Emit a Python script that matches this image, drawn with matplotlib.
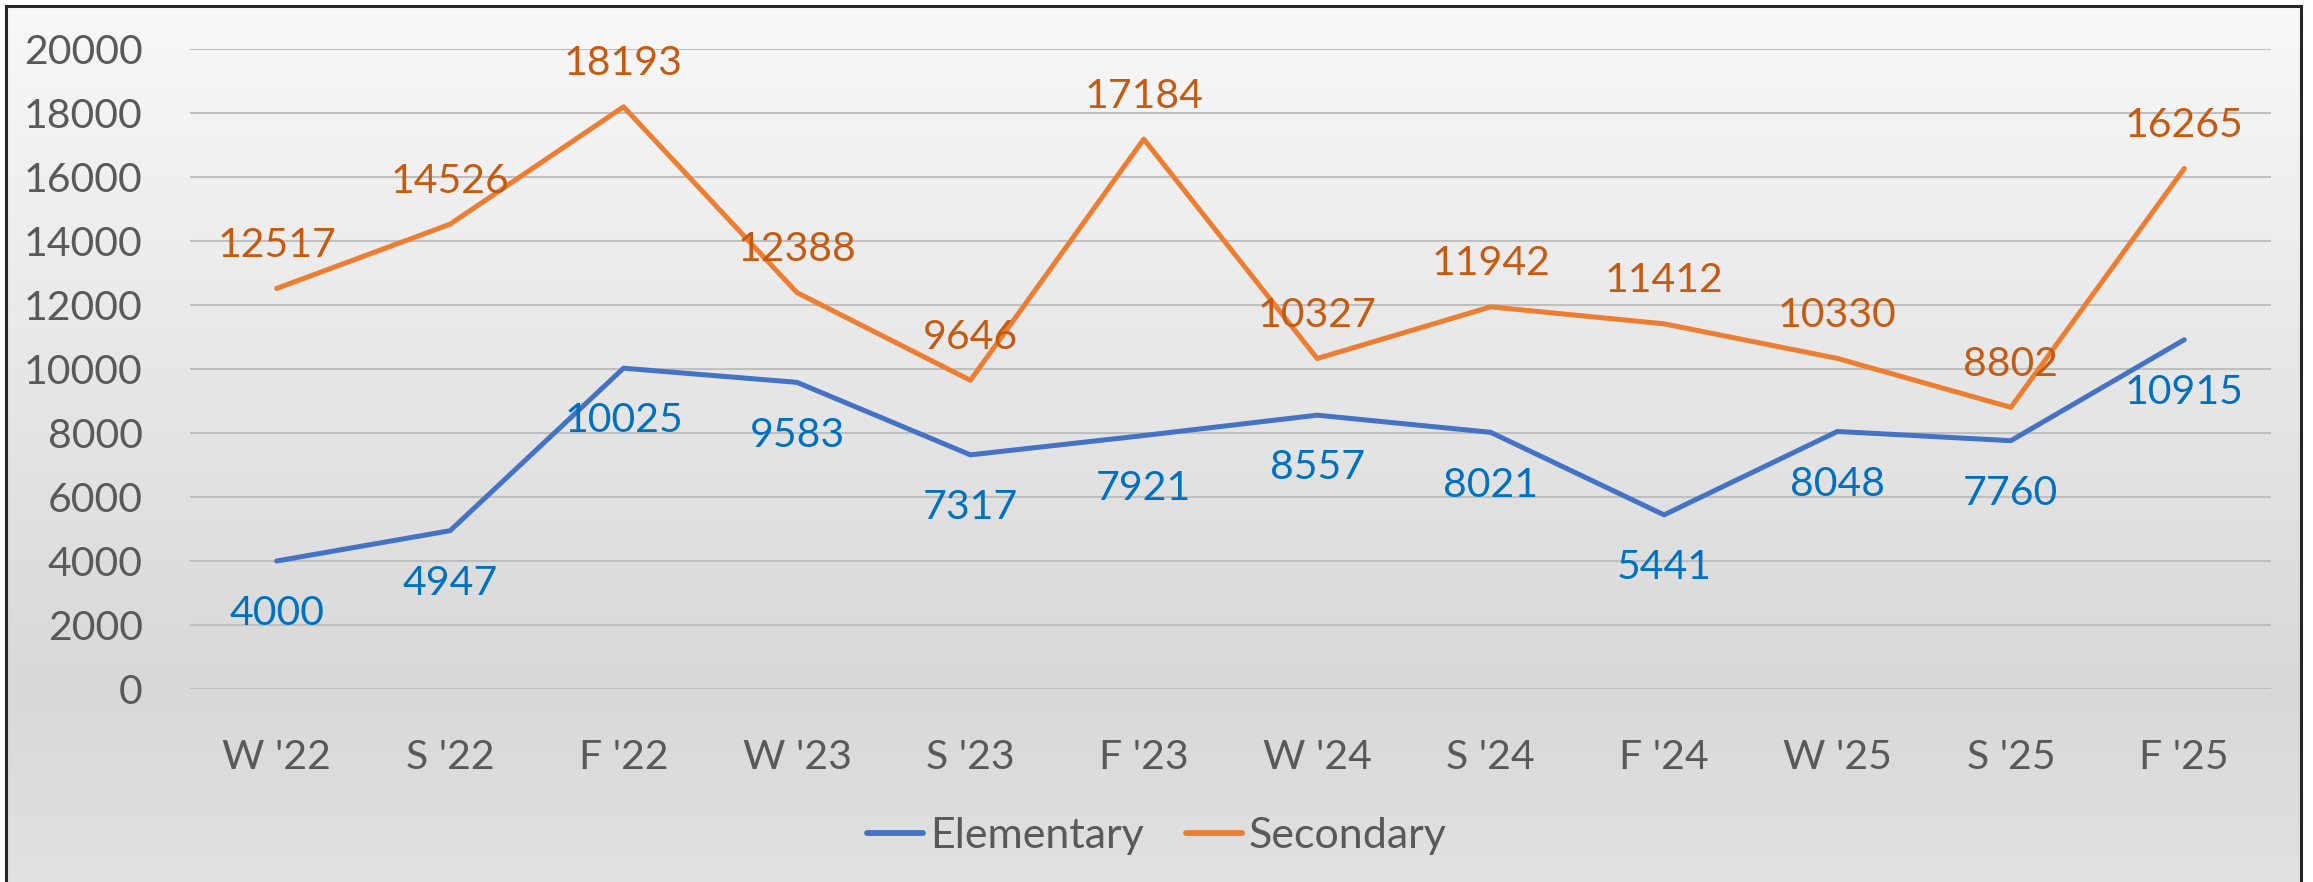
import matplotlib
matplotlib.use("Agg")
import matplotlib.pyplot as plt
import numpy as np
from matplotlib.colors import LinearSegmentedColormap

terms = ["W '22", "S '22", "F '22", "W '23", "S '23", "F '23",
         "W '24", "S '24", "F '24", "W '25", "S '25", "F '25"]
elementary = [4000, 4947, 10025, 9583, 7317, 7921, 8557, 8021, 5441, 8048, 7760, 10915]
secondary = [12517, 14526, 18193, 12388, 9646, 17184, 10327, 11942, 11412, 10330, 8802, 16265]

plt.rcParams['font.family'] = ['Lato', 'DejaVu Sans']
fs = 29.5
grey_text = '#595959'

fig = plt.figure(figsize=(23.13, 8.82), dpi=100)

# chart area with a soft vertical gradient and dark frame
bg = fig.add_axes([6 / 2313, 0, (2301 - 6) / 2313, 1 - 6 / 882])
cmap = LinearSegmentedColormap.from_list(
    'bgfade', [(0.0, '#f8f8f8'), (0.78, '#d8d8d8'), (1.0, '#e1e1e1')])
grad = np.linspace(0, 1, 256).reshape(-1, 1)
bg.imshow(grad, aspect='auto', cmap=cmap, extent=[0, 1, 0, 1], origin='upper')
bg.set_xticks([])
bg.set_yticks([])
for side in ['left', 'top', 'right']:
    bg.spines[side].set_color('#262626')
    bg.spines[side].set_linewidth(2.2)
bg.spines['bottom'].set_visible(False)
bg.set_zorder(0)

ax = fig.add_axes([190 / 2313, 1 - 689 / 882, (2271 - 190) / 2313, (689 - 49) / 882])
ax.set_zorder(1)
ax.patch.set_alpha(0)
x = np.arange(len(terms))

ax.plot(x, elementary, color='#4472C4', lw=3.6, solid_capstyle='round', label='Elementary')
ax.plot(x, secondary, color='#ED7D31', lw=3.6, solid_capstyle='round', label='Secondary')

for xi, v in zip(x, secondary):
    ax.annotate(str(v), (xi, v), xytext=(0, 31), textcoords='offset points',
                ha='center', va='center', fontsize=fs, color='#C55A11')
for xi, v in zip(x, elementary):
    ax.annotate(str(v), (xi, v), xytext=(0, -38), textcoords='offset points',
                ha='center', va='center', fontsize=fs, color='#0070C0')

ax.set_xlim(-0.5, len(terms) - 0.5)
ax.set_ylim(0, 20000)
ax.set_yticks(range(0, 20001, 2000))
ax.set_xticks(x)
ax.set_xticklabels(terms)
ax.tick_params(axis='both', length=0, labelsize=fs, labelcolor=grey_text)
ax.tick_params(axis='y', pad=34)
ax.tick_params(axis='x', pad=36)
ax.grid(axis='y', color='#bfbfbf', lw=1.5)
ax.set_axisbelow(True)
for s in ax.spines.values():
    s.set_visible(False)

leg = fig.legend(loc='center', bbox_to_anchor=(1157 / 2313, 1 - 836 / 882), ncol=2,
                 frameon=False, fontsize=31, handlelength=1.3, handletextpad=0.15,
                 columnspacing=1.0, labelcolor=grey_text)
for h in leg.get_lines():
    h.set_linewidth(4.2)
    h.set_solid_capstyle('round')

fig.savefig('out.png', dpi=100)
